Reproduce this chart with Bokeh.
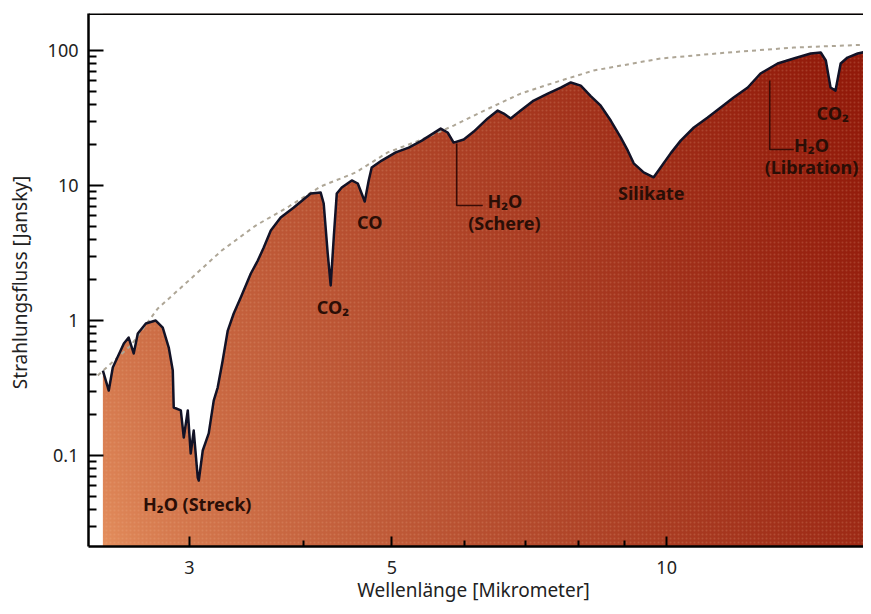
import numpy as np
from bokeh.plotting import figure
from bokeh.models import FixedTicker, Span
from bokeh.core.properties import value
from bokeh.embed import file_html
from bokeh.resources import INLINE

# ---------------- data ----------------
wavelength = [2.412, 2.448, 2.473, 2.543, 2.574, 2.607, 2.634, 2.688, 2.756, 2.805,
              2.848, 2.877, 2.884, 2.936, 2.958, 2.988, 3.010, 3.033, 3.064, 3.072,
              3.103, 3.150, 3.190, 3.222, 3.263, 3.305, 3.355, 3.415, 3.503, 3.565,
              3.619, 3.684, 3.777, 3.904, 4.074, 4.178, 4.210, 4.253, 4.285, 4.318,
              4.351, 4.406, 4.519, 4.588, 4.669, 4.716, 4.752, 4.873, 5.049, 5.217,
              5.392, 5.655, 5.755, 5.843, 5.994, 6.147, 6.367, 6.530, 6.630, 6.747,
              6.920, 7.150, 7.409, 7.655, 7.852, 8.052, 8.257, 8.467, 8.684, 8.905,
              9.064, 9.203, 9.436, 9.678, 9.849, 10.10, 10.36, 10.71, 11.09, 11.46,
              11.84, 12.27, 12.67, 13.23, 13.78, 14.38, 14.75, 14.94, 15.12, 15.31,
              15.51, 15.78, 16.19, 16.77]
flux = [0.426, 0.303, 0.449, 0.676, 0.748, 0.570, 0.801, 0.950, 1.00, 0.887,
        0.631, 0.426, 0.227, 0.216, 0.136, 0.216, 0.1035, 0.153, 0.0687, 0.0653,
        0.109, 0.146, 0.255, 0.319, 0.506, 0.843, 1.127, 1.479, 2.23, 2.78,
        3.47, 4.64, 5.79, 6.87, 8.72, 8.87, 7.36, 3.13, 1.82, 4.12,
        8.72, 9.66, 10.9, 10.35, 7.61, 10.9, 13.6, 15.3, 17.6, 19.1,
        21.5, 26.4, 24.7, 20.8, 21.9, 25.1, 31.4, 35.9, 34.1, 31.4,
        35.9, 42.6, 48.0, 53.2, 58.0, 55.0, 46.0, 39.0, 30.3, 22.7,
        18.2, 14.6, 12.5, 11.5, 13.6, 17.3, 21.5, 26.9, 31.9, 37.8,
        44.9, 53.2, 67.6, 80.1, 87.3, 95.0, 96.6, 84.3, 53.2, 50.5,
        80.1, 88.7, 95.0, 100.0]

cont_wavelength = [2.381, 2.588, 2.770, 2.996, 3.255, 3.546, 3.855, 4.178, 4.564, 4.948,
                   5.392, 5.843, 6.383, 6.920, 7.655, 8.318, 9.849, 11.66, 13.78, 16.77]
cont_flux = [0.392, 0.653, 1.227, 1.98, 3.30, 5.05, 6.99, 9.84, 12.5, 17.6,
             21.9, 27.8, 37.2, 48.0, 59.9, 71.1, 87.3, 96.6, 105.2, 110.8]

x_ticks = [3, 5, 10]
x_minor = [4, 6, 7, 8, 9]
y_ticks = [0.1, 1, 10, 100]
y_minor = [m * d for d in (0.01, 0.1, 1, 10, 100) for m in range(2, 10)]

labels = ["H₂O (Streck)", "CO₂", "CO", "H₂O", "(Schere)", "Silikate", "CO₂", "H₂O", "(Libration)"]
label_x = [3.06, 4.31, 4.728, 6.65, 6.64, 9.62, 15.20, 14.41, 14.41]
label_y = [0.0441, 1.25, 5.41, 7.74, 5.25, 8.87, 34.2, 19.8, 13.8]

bracket_xs = [[5.888, 5.888, 6.288], [12.97, 12.97, 13.78]]
bracket_ys = [[20.5, 7.11, 7.11], [59.9, 18.5, 18.5]]

X0, X1 = 2.326, 16.43
Y0, Y1 = 0.0212, 188.0

FONT = "Noto Sans"

# ---------------- figure ----------------
p = figure(width=863, height=606, x_axis_type="log", y_axis_type="log",
           x_range=(X0, X1), y_range=(Y0, Y1),
           output_backend="svg", toolbar_location=None,
           min_border_left=88, min_border_right=0, min_border_top=13, min_border_bottom=60)
p.grid.visible = False
p.outline_line_color = None
p.background_fill_color = "white"
p.border_fill_color = "white"

# gradient fill (style only): light orange bottom-left -> dark red top-right
W, H = 200, 120
u = np.linspace(0, 1, W)[None, :]
v = np.linspace(0, 1, H)[:, None]
t = np.clip(0.8 * u + 0.25 * v, 0, 1) ** 0.65
light = np.array([230, 145, 95])
dark = np.array([146, 26, 10])
img = np.empty((H, W), dtype=np.uint32)
view = img.view(dtype=np.uint8).reshape((H, W, 4))
for k in range(3):
    view[:, :, k] = (light[k] + (dark[k] - light[k]) * t).astype(np.uint8)
view[:, :, 3] = 255
p.image_rgba(image=[img], x=wavelength[0], y=Y0,
             dw=wavelength[-1] - wavelength[0], dh=Y1 - Y0)

# subtle halftone texture over the filled area
p.varea(x=wavelength, y1=Y0, y2=flux, fill_alpha=0,
        hatch_pattern="dot", hatch_scale=4, hatch_color="#f3c0a0", hatch_alpha=0.18)

# white mask above the spectrum (slightly extended to the left to hide the image edge)
mask_x = [wavelength[0] * 0.99] + wavelength
mask_y = [flux[0]] + flux
p.varea(x=mask_x, y1=mask_y, y2=Y1 * 1.2, fill_color="white")

# continuum (dashed)
p.line(cont_wavelength, cont_flux, line_color="#aea696", line_width=2, line_dash="4 4")

# spectrum outline
p.line(wavelength, flux, line_color="#121226", line_width=2.5, line_join="round")

# brackets
p.multi_line(bracket_xs, bracket_ys, line_color="#3a0c06", line_width=1.6)

# annotations
p.text(x=label_x, y=label_y, text=labels, text_align="center", text_baseline="middle",
       text_font=value(FONT), text_font_size="18px", text_font_style="bold",
       text_color="#2a0e06")

# top border
p.add_layout(Span(location=Y1, dimension="width", line_color="black", line_width=3))

# axes
for ax in (p.xaxis[0], p.yaxis[0]):
    ax.axis_line_color = "black"
    ax.axis_line_width = 2.5
    ax.major_tick_line_color = "black"
    ax.minor_tick_line_color = "black"
    ax.major_tick_line_width = 2
    ax.minor_tick_line_width = 2
    ax.major_tick_out = 0
    ax.minor_tick_out = 0
    ax.major_label_text_font = FONT
    ax.major_label_text_font_size = "18px"
    ax.major_label_text_color = "#222222"
    ax.axis_label_text_font = FONT
    ax.axis_label_text_font_size = "19px"
    ax.axis_label_text_font_style = "normal"
    ax.axis_label_text_color = "#222222"

p.xaxis.ticker = FixedTicker(ticks=x_ticks, minor_ticks=x_minor)
p.xaxis.major_label_overrides = {3: "3", 5: "5", 10: "10"}
p.xaxis.major_tick_in = 10
p.xaxis.minor_tick_in = 6
p.xaxis.major_label_standoff = 14
p.xaxis.axis_label = "Wellenlänge  [Mikrometer]"
p.xaxis.axis_label_standoff = 0

p.yaxis.ticker = FixedTicker(ticks=y_ticks, minor_ticks=y_minor)
p.yaxis.major_label_overrides = {0.1: "0.1", 1: "1", 10: "10", 100: "100"}
p.yaxis.major_tick_in = 15
p.yaxis.minor_tick_in = 8
p.yaxis.major_label_standoff = 10
p.yaxis.axis_label = "Strahlungsfluss  [Jansky]"
p.yaxis.axis_label_standoff = 12

open("out.html", "w").write(file_html(p, INLINE))
